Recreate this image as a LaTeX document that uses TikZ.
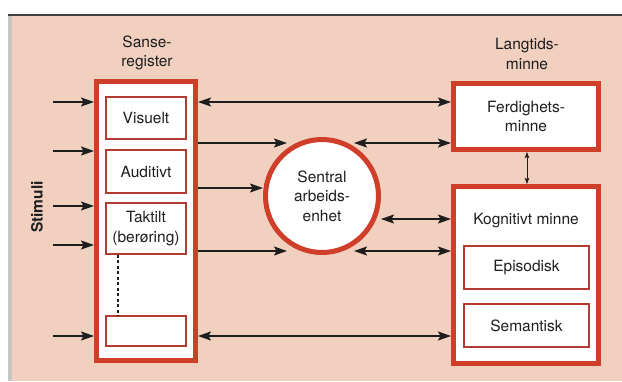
\documentclass[tikz,border=0pt]{standalone}
\usepackage{fontspec}
\setmainfont{TeX Gyre Heros}
\usetikzlibrary{arrows.meta,calc}
\definecolor{panel}{RGB}{241,208,192}
\definecolor{brick}{RGB}{207,62,40}
\definecolor{thinred}{RGB}{180,58,48}
\definecolor{ink}{RGB}{30,30,30}
\tikzset{
  every node/.style={font=\fontsize{15.5}{19.5}\selectfont, text=ink},
  bigbox/.style={draw=brick, line width=5pt, fill=white, rectangle, inner sep=0pt},
  smallbox/.style={draw=thinred, line width=1.4pt, fill=white, rectangle, inner sep=0pt, align=center},
  label/.style={align=center, inner sep=0pt},
  arr/.style={draw=ink, line width=1.5pt, -{Stealth[length=13pt,width=9pt,inset=2.5pt]}},
  dbl/.style={draw=ink, line width=1.5pt, {Stealth[length=13pt,width=9pt,inset=2.5pt]}-{Stealth[length=13pt,width=9pt,inset=2.5pt]}},
  tiny/.style={draw=ink, line width=1pt, {Stealth[length=6pt,width=4.5pt,inset=1pt]}-{Stealth[length=6pt,width=4.5pt,inset=1pt]}},
}
\begin{document}
\begin{tikzpicture}[x=1pt,y=-1pt]
  \useasboundingbox (0,0) rectangle (622,381);
  % page background
  \fill[white] (0,0) rectangle (622,381);
  \fill[gray!45] (8,14) rectangle (12,381);
  \fill[panel] (12,16) rectangle (622,381);
  \draw[ink!85, line width=2pt] (8,15) -- (622,15);

  % sensory register
  \node[bigbox, minimum width=99pt, minimum height=279pt] (sanse) at (146,221) {};
  \node[smallbox, minimum width=80pt, minimum height=42pt] (vis) at (146,118) {Visuelt};
  \node[smallbox, minimum width=80pt, minimum height=43pt] (aud) at (146,171.5) {Auditivt};
  \node[smallbox, minimum width=80pt, minimum height=51pt] (takt) at (146,228.5) {Taktilt\\(berøring)};
  \node[smallbox, minimum width=80pt, minimum height=30pt] (blank) at (146,331) {};
  \draw[ink, line width=1.6pt, dash pattern=on 3pt off 2.5pt] (takt.south -| 118,0) -- (blank.north -| 118,0);
  \node[label] (sanselbl) at (147,53) {Sanse-\\register};

  % stimuli
  \node[label, font=\fontsize{15.5}{19.5}\selectfont\bfseries, rotate=90] (stim) at (37,207) {Stimuli};
  \foreach \i/\yy in {1/102,2/151,3/206,4/245,5/336} {
    \coordinate (s\i) at (53,\yy);
    \draw[arr] (s\i) -- (s\i -| sanse.west);
  }

  % central executive
  \node[circle, draw=brick, line width=5pt, fill=white, minimum size=113pt, inner sep=0pt, align=center] (circ) at (322,196) {Sentral\\arbeids-\\enhet};

  % long-term memory
  \node[label] (ltlbl) at (527,54) {Langtids-\\minne};
  \node[bigbox, minimum width=145pt, minimum height=66pt, align=center] (ferd) at (526,116.5) {Ferdighets-\\minne};
  \node[bigbox, minimum width=145pt, minimum height=177pt] (kog) at (526,275) {};
  \node[label] (koglbl) at (526,221) {Kognitivt minne};
  \node[smallbox, minimum width=125pt, minimum height=43pt] (epi) at (526.5,267.5) {Episodisk};
  \node[smallbox, minimum width=125pt, minimum height=43pt] (sem) at (526.5,325.5) {Semantisk};

  % connectors
  \coordinate (ya) at (0,102);
  \coordinate (yb) at (0,143);
  \coordinate (yc) at (0,188);
  \coordinate (yd) at (0,219);
  \coordinate (ye) at (0,251);
  \coordinate (yf) at (0,336);
  \coordinate (cbl) at ($(circ.center)+(-35,-53)$);
  \coordinate (cbr) at ($(circ.center)+(32,-53)$);
  \coordinate (cdl) at ($(circ.center)+(-35,55)$);
  \coordinate (cdr) at ($(circ.center)+(32,55)$);
  \draw[dbl] (sanse.east |- ya) -- (ferd.west |- ya);
  \draw[arr] (sanse.east |- yb) -- (cbl);
  \draw[dbl] (cbr) -- (ferd.west |- yb);
  \draw[arr] (sanse.east |- yc) -- (circ.west |- yc);
  \draw[dbl] (circ.east |- yd) -- (kog.west |- yd);
  \draw[arr] (sanse.east |- ye) -- (cdl);
  \draw[dbl] (cdr) -- (kog.west |- ye);
  \draw[dbl] (sanse.east |- yf) -- (kog.west |- yf);
  \draw[tiny] (ferd.south -| 527,0) -- (kog.north -| 527,0);
\end{tikzpicture}
\end{document}
